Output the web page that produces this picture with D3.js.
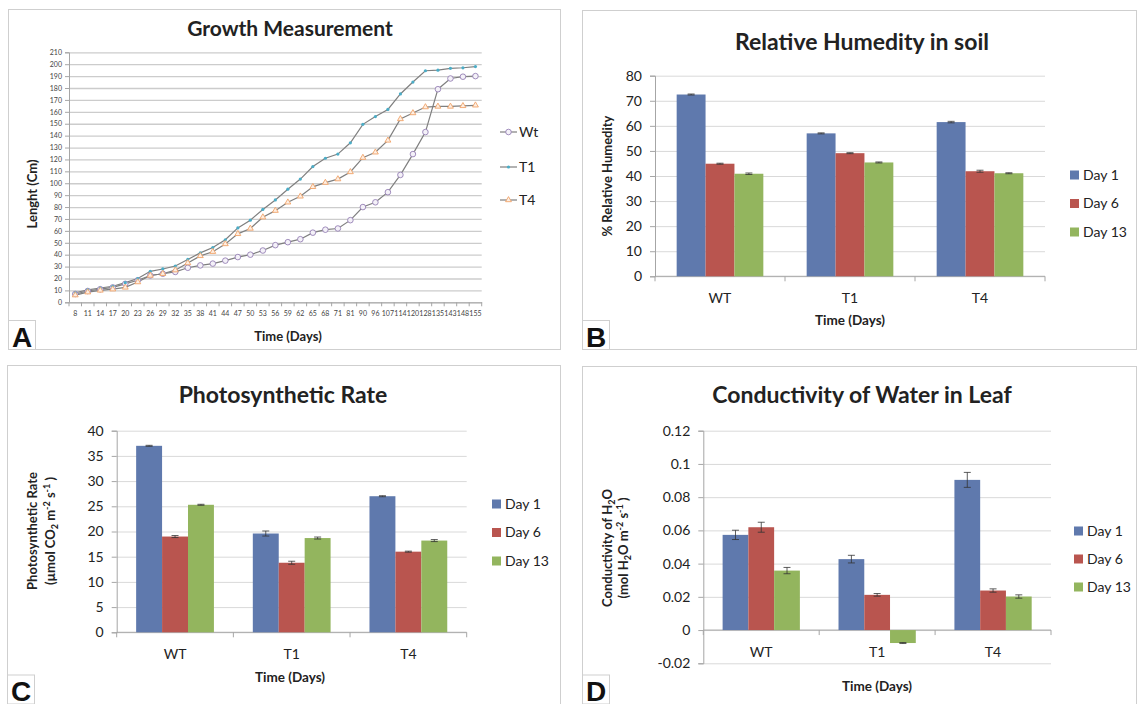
<!DOCTYPE html>
<html>
<head>
<meta charset="utf-8">
<script src="https://cdn.jsdelivr.net/npm/d3@7"></script>
<style>
body { margin: 0; background: #fff; }
text { font-family: Lato, "Open Sans", sans-serif; fill: #222; }
</style>
</head>
<body>
<div id="chart"></div>
<script>
// ---- A: growth measurement (length in cm per day)
var days = [8, 11, 14, 17, 20, 23, 26, 29, 32, 35, 38, 41, 44, 47, 50, 53, 56, 59, 62, 65, 68, 71, 81, 90, 96, 107, 114, 120, 128, 135, 143, 148, 155]
var wtLength = [7, 9.5, 11, 12.5, 15.5, 18.5, 22.5, 24, 25.5, 29, 31, 32.5, 35, 38, 40, 43.5, 48, 50.5, 53, 58.5, 61, 62, 69, 80, 84, 92.5, 107, 124.5, 143, 179, 188, 189.5, 190]
var t1Length = [8, 10.5, 12, 13.5, 16.5, 20, 26, 28, 30.5, 36, 41.5, 46, 52.5, 62.5, 69, 78, 86, 95, 103.5, 114, 121, 124.5, 134, 149.5, 156, 162, 175, 185, 194.5, 195, 196.5, 197, 198]
var t4Length = [6, 8.5, 10, 11, 12.5, 17, 22.5, 24, 27, 33, 39, 42.5, 49, 57.5, 62, 71.5, 77, 84, 89, 97, 100.5, 103.5, 109.5, 121.5, 126, 136, 154, 159, 164, 164.5, 164.5, 165, 165.5]
var lineNames = ["Wt", "T1", "T4"]

// ---- B, C, D: grouped bars
var groups = ["WT", "T1", "T4"]
var dayNames = ["Day 1", "Day 6", "Day 13"]
var barColors = ["#5f79ad", "#b9554f", "#93b55e"]

var humDay1 = [72.5, 57.0, 61.5]
var humDay6 = [44.9, 49.1, 41.9]
var humDay13 = [40.9, 45.4, 41.1]
var humErr1 = [0.2, 0.2, 0.3]
var humErr6 = [0.2, 0.2, 0.4]
var humErr13 = [0.3, 0.2, 0.2]

var photoDay1 = [37.0, 19.6, 27.0]
var photoDay6 = [19.0, 13.8, 16.0]
var photoDay13 = [25.3, 18.7, 18.2]
var photoErr1 = [0.1, 0.5, 0.1]
var photoErr6 = [0.2, 0.3, 0.1]
var photoErr13 = [0.1, 0.2, 0.2]

var condDay1 = [0.0573, 0.0427, 0.0904]
var condDay6 = [0.0619, 0.0212, 0.0238]
var condDay13 = [0.0358, -0.0078, 0.0202]
var condErr1 = [0.0028, 0.0023, 0.0045]
var condErr6 = [0.003, 0.0008, 0.001]
var condErr13 = [0.0019, 0.0003, 0.001]

var svg = d3.select("#chart").append("svg")
  .attr("width", 1137)
  .attr("height", 704)

svg.append("rect").attr("width", 1137).attr("height", 704).attr("fill", "#fff")

// panel frames + letter boxes
function panel(x, y, w, h, letter, lx, ly) {
  svg.append("rect").attr("x", x).attr("y", y).attr("width", w).attr("height", h)
    .attr("fill", "none").attr("stroke", "#cfcfcf")
  svg.append("rect").attr("x", lx).attr("y", ly).attr("width", 27).attr("height", 29)
    .attr("fill", "#fff").attr("stroke", "#cfcfcf")
  svg.append("text").attr("x", lx + 13.5).attr("y", ly + 26)
    .attr("text-anchor", "middle")
    .style("font-family", "'Liberation Sans', Arial, sans-serif")
    .style("font-weight", "bold").style("font-size", "28px").style("fill", "#111")
    .text(letter)
}
panel(8.5, 9.5, 552, 340, "A", 8.5, 320.5)
panel(582.5, 10.5, 554, 339, "B", 582.5, 320.5)
panel(7.5, 365.5, 553, 345, "C", 7.5, 675)
panel(582.5, 366.5, 554, 345, "D", 582.5, 675)

function title(x, y, size, s) {
  svg.append("text").attr("x", x).attr("y", y).attr("text-anchor", "middle")
    .style("font-weight", "bold").style("font-size", size + "px").text(s)
}

// rotated text made of plain / sub / sup parts
function vtext(x, cy, size, parts) {
  var t = svg.append("text")
    .attr("transform", "translate(" + x + "," + cy + ") rotate(-90)")
    .attr("text-anchor", "middle")
    .attr("dy", "0.35em")
    .style("font-weight", "bold").style("font-size", size + "px")
  var shift = 0
  parts.forEach(function (p) {
    var s = p[1] === "sub" ? 3 : p[1] === "sup" ? -5 : 0
    t.append("tspan").attr("dy", s - shift)
      .style("font-size", (p[1] ? size * 0.7 : size) + "px")
      .text(p[0])
    shift = s
  })
}

// ================= A: line chart =================
var xA = d3.scaleBand().domain(days).range([69, 481.7])
var yA = d3.scaleLinear().domain([0, 210]).range([302.3, 52.3])
var cx = function (d) { return xA(d) + xA.bandwidth() / 2 }

var gA = svg.append("g")
gA.append("g").attr("transform", "translate(69,0)")
  .call(d3.axisLeft(yA).ticks(21).tickSize(-412.7).tickFormat(""))
  .call(function (g) { g.select(".domain").remove() })
  .selectAll("line").attr("stroke", "#cccccc").attr("stroke-width", 1.3)

gA.append("g").attr("transform", "translate(69,0)")
  .call(d3.axisLeft(yA).ticks(21).tickSize(4).tickPadding(3))
  .call(function (g) {
    g.select(".domain").attr("stroke", "#a6a6a6")
    g.selectAll("line").attr("stroke", "#a6a6a6")
    g.selectAll("text").style("font-size", "7px").style("fill", "#444").style("font-family", "Lato")
  })

gA.append("g").attr("transform", "translate(0,302.3)")
  .call(d3.axisBottom(xA).tickSize(0).tickPadding(9))
  .call(function (g) {
    g.select(".domain").attr("stroke", "#a6a6a6")
    g.selectAll("text").style("font-size", "7px").style("fill", "#444").style("font-family", "Lato")
  })
gA.selectAll(".xtick").data(days.concat([null])).enter().append("line")
  .attr("x1", function (d) { return d === null ? xA.range()[1] : xA(d) })
  .attr("x2", function (d) { return d === null ? xA.range()[1] : xA(d) })
  .attr("y1", 302.3).attr("y2", 306.3).attr("stroke", "#a6a6a6")

var lineA = d3.line().x(function (d, i) { return cx(days[i]) }).y(function (d) { return yA(d) })
var seriesA = [wtLength, t1Length, t4Length]
seriesA.forEach(function (s) {
  gA.append("path").datum(s).attr("d", lineA)
    .attr("fill", "none").attr("stroke", "#7f7f7f").attr("stroke-width", 1.2)
})

function marker(g, k, x, y) {
  if (k === 0) {
    g.append("circle").attr("cx", x).attr("cy", y).attr("r", 2.8)
      .attr("fill", "#f4f1f8").attr("stroke", "#9580b4").attr("stroke-width", 0.9)
  } else if (k === 1) {
    g.append("circle").attr("cx", x).attr("cy", y).attr("r", 1.6).attr("fill", "#4bacc6")
  } else {
    g.append("path").attr("d", d3.symbol(d3.symbolTriangle, 15)())
      .attr("transform", "translate(" + x + "," + y + ")")
      .attr("fill", "#fdeee2").attr("stroke", "#f0a46a").attr("stroke-width", 0.9)
  }
}
seriesA.forEach(function (s, k) {
  s.forEach(function (v, i) { marker(gA, k, cx(days[i]), yA(v)) })
})

var legA = [132, 167, 200]
lineNames.forEach(function (n, k) {
  gA.append("line").attr("x1", 500).attr("x2", 517).attr("y1", legA[k]).attr("y2", legA[k])
    .attr("stroke", "#7f7f7f").attr("stroke-width", 1.2)
  marker(gA, k, 508.5, legA[k])
  gA.append("text").attr("x", 519).attr("y", legA[k]).attr("dy", "0.35em")
    .style("font-size", "14px").text(n)
})

title(290, 36, 21, "Growth Measurement")
vtext(37, 194, 13, [["Lenght (Cm)"]])
svg.append("text").attr("x", 288).attr("y", 341).attr("text-anchor", "middle")
  .style("font-weight", "bold").style("font-size", "13px").text("Time (Days)")

// ================= bar charts =================
function barChart(c) {
  var g = svg.append("g")
  var x = d3.scaleBand().domain(groups).range([c.left, c.right])
  var inner = d3.scaleBand().domain([0, 1, 2]).range([0, x.bandwidth()]).paddingOuter(0.75)
  var y = d3.scaleLinear().domain(c.domain).range([c.bottom, c.top])
  var fmt = function (d) { return String(+d.toFixed(2)) }

  g.append("g").attr("transform", "translate(" + c.left + ",0)")
    .call(d3.axisLeft(y).ticks(c.ticks).tickSize(-(c.right - c.left)).tickFormat(""))
    .call(function (s) { s.select(".domain").remove() })
    .selectAll("line").attr("stroke", "#d9d9d9")

  g.append("g").attr("transform", "translate(" + c.left + ",0)")
    .call(d3.axisLeft(y).ticks(c.ticks).tickSize(5).tickPadding(8).tickFormat(fmt))
    .call(function (s) {
      s.select(".domain").attr("stroke", "#a6a6a6")
      s.selectAll("line").attr("stroke", "#a6a6a6")
      s.selectAll("text").style("font-size", "14px").style("fill", "#222").style("font-family", "Lato")
    })

  var y0 = y(0)
  g.append("line").attr("x1", c.left).attr("x2", c.right).attr("y1", y0).attr("y2", y0)
    .attr("stroke", "#a6a6a6")
  g.selectAll(".ct").data(groups.concat([null])).enter().append("line")
    .attr("x1", function (d) { return d === null ? c.right : x(d) })
    .attr("x2", function (d) { return d === null ? c.right : x(d) })
    .attr("y1", y0).attr("y2", y0 + 5).attr("stroke", "#a6a6a6")

  c.series.forEach(function (vals, k) {
    vals.forEach(function (v, i) {
      var bx = x(groups[i]) + inner(k)
      g.append("rect").attr("x", bx).attr("width", inner.bandwidth())
        .attr("y", y(Math.max(0, v))).attr("height", Math.abs(y(v) - y0))
        .attr("fill", barColors[k])
      var e = c.errors[k][i]
      var mx = bx + inner.bandwidth() / 2
      g.append("line").attr("x1", mx).attr("x2", mx).attr("y1", y(v - e)).attr("y2", y(v + e))
        .attr("stroke", "#333").attr("stroke-width", 0.8)
      ;[v - e, v + e].forEach(function (w) {
        g.append("line").attr("x1", mx - 3.5).attr("x2", mx + 3.5).attr("y1", y(w)).attr("y2", y(w))
          .attr("stroke", "#333").attr("stroke-width", 0.8)
      })
    })
  })

  g.selectAll(".cl").data(groups).enter().append("text")
    .attr("x", function (d) { return x(d) + x.bandwidth() / 2 })
    .attr("y", y0 + 22).attr("dy", "0.35em").attr("text-anchor", "middle")
    .style("font-size", "14px").text(function (d) { return d })

  svg.append("text").attr("x", c.xTitle[0]).attr("y", c.xTitle[1]).attr("dy", "0.35em")
    .attr("text-anchor", "middle")
    .style("font-weight", "bold").style("font-size", "13.5px").text("Time (Days)")

  dayNames.forEach(function (n, k) {
    var ly = c.legend[1] + k * c.legend[2]
    g.append("rect").attr("x", c.legend[0]).attr("y", ly - 4.5).attr("width", 9).attr("height", 9)
      .attr("fill", barColors[k])
    g.append("text").attr("x", c.legend[0] + 13).attr("y", ly).attr("dy", "0.35em")
      .style("font-size", "14px").text(n)
  })
}

barChart({
  left: 655, right: 1045, top: 75.7, bottom: 276.3, domain: [0, 80], ticks: 8,
  series: [humDay1, humDay6, humDay13], errors: [humErr1, humErr6, humErr13],
  xTitle: [850, 320], legend: [1070, 175, 28.5]
})
title(862, 50, 23, "Relative Humedity in soil")
vtext(612, 176, 13, [["% Relative Humedity"]])

barChart({
  left: 116.7, right: 466.7, top: 430.7, bottom: 632.3, domain: [0, 40], ticks: 8,
  series: [photoDay1, photoDay6, photoDay13], errors: [photoErr1, photoErr6, photoErr13],
  xTitle: [290, 677], legend: [492, 504, 28.5]
})
title(283, 403, 23, "Photosynthetic Rate")
vtext(37, 531, 13, [["Photosynthetic Rate"]])
vtext(55, 531, 13, [["(\u00b5mol CO"], ["2", "sub"], [" m"], ["-2", "sup"], [" s"], ["-1", "sup"], [" )"]])

barChart({
  left: 703.3, right: 1051, top: 430.7, bottom: 663.3, domain: [-0.02, 0.12], ticks: 7,
  series: [condDay1, condDay6, condDay13], errors: [condErr1, condErr6, condErr13],
  xTitle: [877, 686], legend: [1074, 531, 28]
})
title(862, 403, 23, "Conductivity of Water in Leaf")
vtext(612, 548, 13, [["Conductivity of H"], ["2", "sub"], ["O"]])
vtext(628, 548, 13, [["(mol H"], ["2", "sub"], ["O m"], ["-2", "sup"], [" s"], ["-1", "sup"], [" )"]])
</script>
</body>
</html>
